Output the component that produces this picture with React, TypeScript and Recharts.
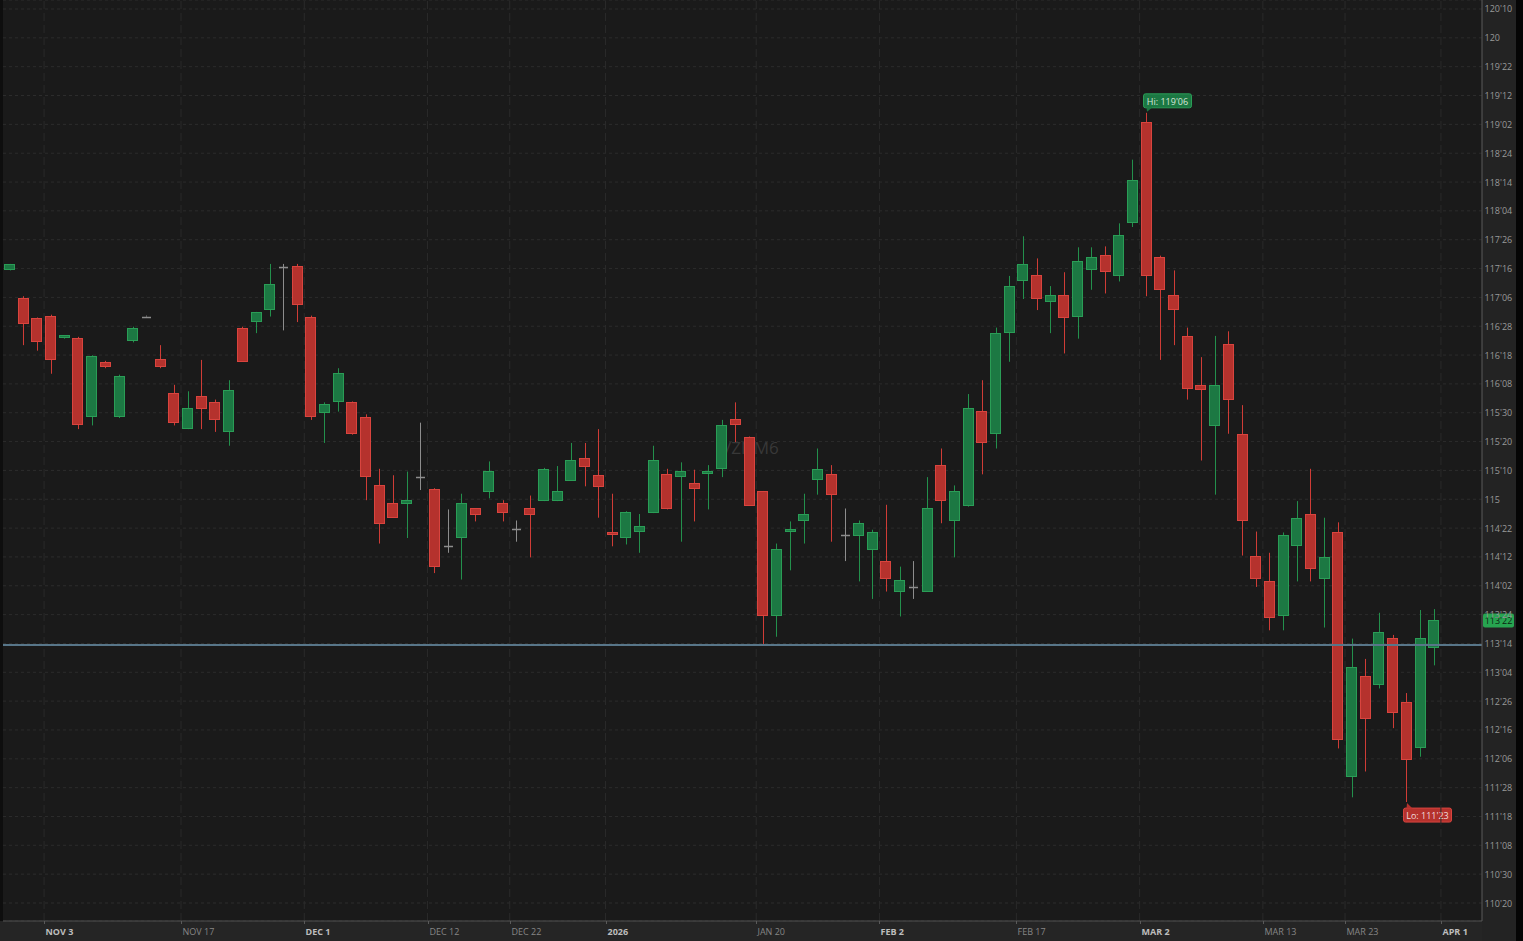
import React from "react";
import {
  ComposedChart,
  Bar,
  XAxis,
  YAxis,
  CartesianGrid,
  ReferenceLine,
} from "recharts";

const SYMBOL = "/ZNM6";

const DATES = [
  "Oct 29", "Oct 30", "Oct 31",
  "Nov 3", "Nov 4", "Nov 5", "Nov 6", "Nov 7", "Nov 10", "Nov 11", "Nov 12", "Nov 13", "Nov 14",
  "Nov 17", "Nov 18", "Nov 19", "Nov 20", "Nov 21", "Nov 24", "Nov 25", "Nov 26", "Nov 28",
  "Dec 1", "Dec 2", "Dec 3", "Dec 4", "Dec 5", "Dec 8", "Dec 9", "Dec 10", "Dec 11", "Dec 12",
  "Dec 15", "Dec 16", "Dec 17", "Dec 18", "Dec 19", "Dec 22", "Dec 23", "Dec 24", "Dec 26",
  "Dec 29", "Dec 30", "Dec 31",
  "Jan 2", "Jan 5", "Jan 6", "Jan 7", "Jan 8", "Jan 9", "Jan 12", "Jan 13", "Jan 14", "Jan 15",
  "Jan 16", "Jan 20", "Jan 21", "Jan 22", "Jan 23", "Jan 26", "Jan 27", "Jan 28", "Jan 29", "Jan 30",
  "Feb 2", "Feb 3", "Feb 4", "Feb 5", "Feb 6", "Feb 9", "Feb 10", "Feb 11", "Feb 12", "Feb 13",
  "Feb 17", "Feb 18", "Feb 19", "Feb 20", "Feb 23", "Feb 24", "Feb 25", "Feb 26", "Feb 27",
  "Mar 2", "Mar 3", "Mar 4", "Mar 5", "Mar 6", "Mar 9", "Mar 10", "Mar 11", "Mar 12", "Mar 13",
  "Mar 16", "Mar 17", "Mar 18", "Mar 19", "Mar 20", "Mar 23", "Mar 24", "Mar 25", "Mar 26", "Mar 27",
  "Mar 30", "Mar 31",
];
// empty slots to the right of the last bar
const FUTURE_DATES = ["Apr 1", "Apr 2", "Apr 6"];

const OPEN = [
  117.48, 117.18, 116.96, 116.99, 116.75, 116.75, 115.89, 116.49, 115.89, 116.71,
  116.98, 116.52, 116.15, 115.76, 116.12, 116.05, 115.73, 116.86, 116.92, 117.05,
  117.52, 117.53, 116.98, 115.93, 116.05, 116.05, 115.89, 115.15, 114.96, 114.95,
  115.24, 115.11, 114.49, 114.58, 114.9, 115.08, 114.96, 114.68, 114.9, 114.98,
  114.98, 115.2, 115.45, 115.26, 114.65, 114.58, 114.64, 114.85, 115.27, 115.24,
  115.18, 115.27, 115.33, 115.87, 115.68, 115.09, 113.73, 114.64, 114.76, 115.21,
  115.27, 114.61, 114.6, 114.45, 114.33, 114.0, 114.05, 114.0, 115.37, 114.76,
  114.93, 115.96, 115.71, 116.8, 117.36, 117.43, 117.14, 117.21, 116.98, 117.48,
  117.65, 117.42, 117.99, 119.09, 117.62, 117.21, 116.77, 116.24, 115.79, 116.68,
  115.71, 114.39, 114.11, 113.73, 114.49, 114.84, 114.14, 114.64, 111.99, 113.08,
  112.99, 113.5, 112.8, 112.3, 113.39,
];
const HIGH = [
  117.55, 117.2, 116.97, 117.0, 116.78, 116.76, 116.56, 116.5, 116.35, 116.87,
  116.99, 116.67, 116.24, 116.17, 116.51, 116.08, 116.29, 116.87, 117.03, 117.55,
  117.55, 117.55, 116.99, 116.05, 116.42, 116.06, 115.92, 115.33, 115.26, 115.3,
  115.83, 115.12, 114.89, 115.06, 114.9, 115.41, 114.99, 114.77, 115.04, 115.34,
  115.36, 115.61, 115.61, 115.76, 115.06, 114.87, 114.84, 115.58, 115.33, 115.4,
  115.32, 115.37, 115.86, 116.05, 115.68, 115.09, 114.52, 114.76, 115.06, 115.55,
  115.37, 114.9, 114.77, 114.67, 114.94, 114.27, 114.33, 115.24, 115.55, 115.15,
  116.14, 116.29, 116.86, 117.42, 117.85, 117.61, 117.31, 117.46, 117.73, 117.73,
  117.74, 117.99, 118.68, 119.1875, 117.64, 117.48, 116.86, 116.54, 116.77, 116.82,
  116.02, 114.65, 114.42, 114.64, 114.98, 115.33, 114.8, 114.75, 113.49, 113.27,
  113.77, 113.53, 112.9, 113.8, 113.81,
];
const LOW = [
  117.48, 116.67, 116.61, 116.36, 116.74, 115.76, 115.8, 116.42, 115.88, 116.7,
  116.98, 116.42, 115.8, 115.76, 115.76, 115.73, 115.58, 116.49, 116.8, 116.98,
  116.83, 116.92, 115.86, 115.61, 115.95, 115.7, 114.99, 114.52, 114.8, 114.58,
  115.1, 114.2, 114.42, 114.13, 114.76, 115.01, 114.76, 114.54, 114.37, 114.98,
  114.98, 115.2, 115.14, 114.8, 114.49, 114.51, 114.42, 114.85, 114.89, 114.54,
  114.76, 114.89, 115.24, 115.62, 114.93, 113.43, 113.51, 114.23, 114.52, 115.05,
  114.54, 114.33, 114.11, 113.92, 114.0, 113.73, 113.92, 114.0, 114.74, 114.37,
  114.92, 115.27, 115.55, 116.49, 117.17, 117.05, 116.8, 116.58, 116.74, 117.27,
  117.23, 117.36, 117.95, 117.2, 116.51, 116.67, 116.08, 115.42, 115.05, 115.71,
  114.39, 114.05, 113.58, 113.58, 114.11, 114.11, 113.61, 112.3, 111.77, 112.05,
  112.95, 112.52, 111.71875, 112.21, 113.2,
];
const CLOSE = [
  117.55, 116.9, 116.7, 116.51, 116.78, 115.8, 116.55, 116.43, 116.34, 116.86,
  116.98, 116.43, 115.83, 115.99, 115.98, 115.86, 116.18, 116.49, 117.03, 117.33,
  117.52, 117.11, 115.89, 116.03, 116.37, 115.71, 115.24, 114.73, 114.8, 114.99,
  115.24, 114.27, 114.49, 114.96, 114.83, 115.31, 114.85, 114.68, 114.83, 115.33,
  115.09, 115.43, 115.35, 115.13, 114.61, 114.86, 114.71, 115.43, 114.89, 115.31,
  115.11, 115.31, 115.8, 115.8, 114.93, 113.73, 114.46, 114.68, 114.84, 115.33,
  115.05, 114.61, 114.74, 114.64, 114.14, 114.12, 114.05, 114.9, 114.98, 115.09,
  115.99, 115.61, 116.8, 117.31, 117.55, 117.17, 117.21, 116.96, 117.58, 117.62,
  117.46, 117.86, 118.46, 117.42, 117.27, 117.05, 116.2, 116.18, 116.24, 116.08,
  114.76, 114.14, 113.71, 114.61, 114.8, 114.24, 114.37, 112.39, 113.18, 112.62,
  113.56, 112.68, 112.17, 113.5, 113.6875,
];

const X_TICKS = ["Nov 3", "Nov 17", "Dec 1", "Dec 12", "Dec 22", "Jan 2", "Jan 20", "Feb 2", "Feb 17", "Mar 2", "Mar 13", "Mar 23", "Apr 1"];
const X_TICK_LABELS = ["NOV 3", "NOV 17", "DEC 1", "DEC 12", "DEC 22", "2026", "JAN 20", "FEB 2", "FEB 17", "MAR 2", "MAR 13", "MAR 23", "APR 1"];
const BOLD_TICKS = ["Nov 3", "Dec 1", "Jan 2", "Feb 2", "Mar 2", "Apr 1"];

const Y_TICK_LABELS = [
  "110'20", "110'30", "111'08", "111'18", "111'28", "112'06", "112'16", "112'26",
  "113'04", "113'14", "113'24", "114'02", "114'12", "114'22", "115", "115'10",
  "115'20", "115'30", "116'08", "116'18", "116'28", "117'06", "117'16", "117'26",
  "118'04", "118'14", "118'24", "119'02", "119'12", "119'22", "120", "120'10",
];
const Y_DOMAIN = [110.43, 120.41];
const PRICE_LINE = 113.42;

// layout
const W = 1523;
const H = 941;
const CHART_W = 1516;
const LEFT = 3;
const Y_W = 34;
const X_H = 20;
const PLOT_W = CHART_W - LEFT - Y_W;
const PLOT_H = H - X_H;
const SLOT = PLOT_W / (DATES.length + FUTURE_DATES.length);
const FONT = "'Open Sans', 'Noto Sans', sans-serif";

const parse32 = (s: string) => {
  const [a, b] = s.split("'");
  return Number(a) + (b ? Number(b) / 32 : 0);
};
const fmt32 = (v: number) => {
  let whole = Math.floor(v);
  let t = Math.round((v - whole) * 32);
  if (t === 32) {
    whole += 1;
    t = 0;
  }
  return t === 0 ? `${whole}` : `${whole}'${String(t).padStart(2, "0")}`;
};

const Y_TICKS = Y_TICK_LABELS.map(parse32);

const rows = [
  ...DATES.map((d, i) => ({ date: d, i, o: OPEN[i], h: HIGH[i], l: LOW[i], c: CLOSE[i] })),
  ...FUTURE_DATES.map((d) => ({ date: d })),
] as any[];

const HI_IDX = HIGH.indexOf(Math.max(...HIGH));
const LO_IDX = LOW.indexOf(Math.min(...LOW));
const LAST = CLOSE[CLOSE.length - 1];

const GREEN_FILL = "#1c7843";
const GREEN_EDGE = "#2a9d56";
const RED_FILL = "#b5322d";
const RED_EDGE = "#d9443e";

const Candle = (props: any) => {
  const { x, y, width, height, payload } = props;
  if (!payload || payload.o == null) return null;
  const { o, h, l, c, i } = payload;
  const top = Math.min(y, y + height);
  const span = Math.abs(height);
  const k = h > l ? span / (h - l) : 0;
  const yOf = (v: number) => top + (h - v) * k;
  const cx = Math.round(x + width / 2) + 0.5;
  const up = c > o;
  const flat = c === o;
  const wick = flat ? "#8d8d8d" : up ? "#23904c" : "#cf3c36";
  const bTop = Math.round(yOf(Math.max(o, c)));
  const bBot = Math.max(Math.round(yOf(Math.min(o, c))), bTop + 3);
  const left = Math.round(x) + 0.5;
  const hy = yOf(h);
  const ly = yOf(l);
  return (
    <g>
      <line x1={cx} x2={cx} y1={hy} y2={ly} stroke={wick} strokeWidth={1} />
      {flat ? (
        <line
          x1={cx - 4.5}
          x2={cx + 4.5}
          y1={Math.round(yOf(o)) + 0.5}
          y2={Math.round(yOf(o)) + 0.5}
          stroke={wick}
          strokeWidth={1.5}
        />
      ) : (
        <rect
          x={left}
          y={bTop + 0.5}
          width={Math.round(width) - 1}
          height={bBot - bTop - 1}
          fill={up ? GREEN_FILL : RED_FILL}
          stroke={up ? GREEN_EDGE : RED_EDGE}
          strokeWidth={1}
        />
      )}
      {i === HI_IDX && (
        <g>
          <rect x={cx - 3} y={hy - 19} width={48} height={14} rx={2} fill={GREEN_FILL} stroke={GREEN_EDGE} />
          <path d={`M${cx} ${hy - 5.5} L${cx + 6} ${hy - 5.5} L${cx + 0.5} ${hy - 1} Z`} fill={GREEN_FILL} />
          <text x={cx + 21} y={hy - 11.5} textAnchor="middle" dominantBaseline="central" fontSize={9} fill="#d6e6da" fontFamily={FONT}>
            {`Hi: ${fmt32(h)}`}
          </text>
        </g>
      )}
      {i === LO_IDX && (
        <g>
          <rect x={cx - 3} y={ly + 6} width={48} height={14} rx={2} fill={RED_FILL} stroke={RED_EDGE} />
          <path d={`M${cx} ${ly + 6.5} L${cx + 6} ${ly + 6.5} L${cx + 0.5} ${ly + 1} Z`} fill={RED_FILL} />
          <text x={cx + 21} y={ly + 13.5} textAnchor="middle" dominantBaseline="central" fontSize={9} fill="#f0dcdc" fontFamily={FONT}>
            {`Lo: ${fmt32(l)}`}
          </text>
        </g>
      )}
    </g>
  );
};

const XTick = (props: any) => {
  const { x, y, payload } = props;
  const idx = X_TICKS.indexOf(payload.value);
  if (idx < 0) return null;
  const bold = BOLD_TICKS.includes(payload.value);
  const sx = Math.round(x - SLOT / 2) + 0.5;
  return (
    <g>
      <line x1={sx} x2={sx} y1={y} y2={y + 3} stroke="#5a5a5a" />
      <text
        x={sx + 1}
        y={y + 13.5}
        fontSize={9}
        fontWeight={bold ? 700 : 400}
        fill={bold ? "#bdbdbd" : "#858585"}
        fontFamily={FONT}
      >
        {X_TICK_LABELS[idx]}
      </text>
    </g>
  );
};

const YTick = (props: any) => {
  const { x, y, payload } = props;
  return (
    <text x={x + 2.5} y={y} dominantBaseline="central" fontSize={9} fill="#999999" fontFamily={FONT}>
      {fmt32(payload.value)}
    </text>
  );
};

const LastPriceLabel = (props: any) => {
  const vb = props.viewBox || {};
  const lx = vb.x + vb.width + 1;
  const ly = vb.y;
  return (
    <g>
      <rect x={lx} y={ly - 7} width={31} height={14} rx={2} fill="#27a450" />
      <text x={lx + 15.5} y={ly} textAnchor="middle" dominantBaseline="central" fontSize={9} fill="#0b2410" fontFamily={FONT}>
        {fmt32(LAST)}
      </text>
    </g>
  );
};

export default function App(): React.ReactElement {
  return (
    <div
      style={{
        position: "relative",
        width: W,
        height: H,
        background: "#0e0e0e",
        overflow: "hidden",
        fontFamily: FONT,
      }}
    >
      <style>{"body{margin:0;background:#000;}"}</style>
      <div style={{ position: "absolute", left: LEFT, top: 0, width: PLOT_W, height: PLOT_H, background: "#1a1a1a" }} />
      <div style={{ position: "absolute", left: LEFT + PLOT_W, top: 0, width: Y_W, height: H, background: "#232323" }} />
      <div style={{ position: "absolute", left: 0, top: PLOT_H, width: LEFT + PLOT_W, height: X_H, background: "#252525" }} />
      <div style={{ position: "absolute", left: CHART_W, top: 0, width: W - CHART_W, height: H, background: "#050505" }} />
      {/* symbol watermark */}
      <div
        style={{
          position: "absolute",
          left: 725,
          top: 438,
          fontSize: 17,
          lineHeight: "20px",
          color: "#383838",
        }}
      >
        {SYMBOL}
      </div>
      <div style={{ position: "absolute", left: 0, top: 0 }}>
        <ComposedChart
          width={CHART_W}
          height={H}
          data={rows}
          margin={{ top: 0, right: 0, left: LEFT, bottom: 0 }}
          barCategoryGap={0}
        >
          <CartesianGrid vertical={false} stroke="#2c2c2c" strokeDasharray="3 3" />
          {X_TICKS.map((d) => (
            <ReferenceLine key={d} x={d} position="start" stroke="#2a2a2a" strokeDasharray="8 4" />
          ))}
          <XAxis
            dataKey="date"
            ticks={X_TICKS}
            interval={0}
            height={X_H}
            tickSize={0}
            tickMargin={0}
            tickLine={false}
            axisLine={{ stroke: "#505050" }}
            tick={<XTick />}
          />
          <YAxis
            orientation="right"
            type="number"
            width={Y_W}
            domain={Y_DOMAIN}
            allowDataOverflow
            ticks={Y_TICKS}
            interval={0}
            tickSize={0}
            tickMargin={0}
            tickLine={false}
            axisLine={{ stroke: "#5a5a5a" }}
            tick={<YTick />}
          />
          <Bar
            dataKey={(r: any) => (r.o == null ? null : [r.l, r.h])}
            barSize={11}
            shape={<Candle />}
            isAnimationActive={false}
          />
          <ReferenceLine y={PRICE_LINE} stroke="#587689" strokeWidth={2} />
          <ReferenceLine y={LAST} stroke="none" label={<LastPriceLabel />} />
        </ComposedChart>
      </div>
    </div>
  );
}
